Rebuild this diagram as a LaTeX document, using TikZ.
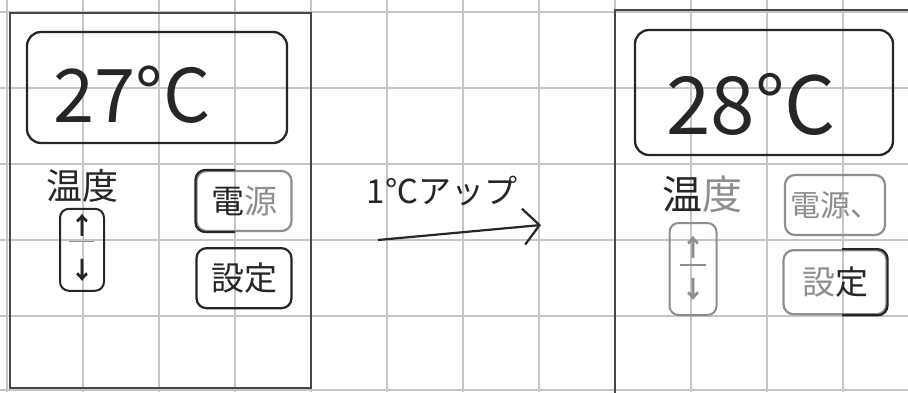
\documentclass[tikz,border=0pt]{standalone}
\usepackage{fontspec}
\setmainfont{Noto Sans CJK JP}
\usetikzlibrary{positioning,arrows.meta}

\definecolor{ink}{HTML}{262626}
\definecolor{pencil}{HTML}{8E8E8E}
\definecolor{gridline}{HTML}{C6C6C6}

\tikzstyle{phone} = [rectangle, draw=ink!85, line width=1.8pt, inner sep=0pt]
\tikzstyle{screen} = [rectangle, rounded corners=14pt, draw=ink, line width=2.3pt, inner sep=0pt]
\tikzstyle{button} = [rectangle, rounded corners=10pt, draw=ink, line width=2.2pt, inner sep=0pt, minimum width=95pt, minimum height=60pt, text=ink, font=\fontsize{33}{33}\selectfont]
\tikzstyle{updown} = [rectangle, rounded corners=9pt, draw=ink, line width=2pt, inner sep=0pt, minimum width=44pt, minimum height=82pt]
\tikzstyle{key} = [inner sep=0pt, text=ink, font=\fontsize{24}{24}\selectfont\bfseries]
\tikzstyle{label} = [inner sep=0pt, text=ink, font=\fontsize{36}{36}\selectfont]
\tikzstyle{temp} = [inner sep=0pt, text=ink, font=\fontsize{74}{74}\selectfont]
\tikzstyle{arrow} = [ink, line width=2.2pt, ->, >={Straight Barb[length=16pt,width=36pt,line width=2.2pt]}]

\begin{document}
\begin{tikzpicture}[x=1pt,y=-1pt]
\useasboundingbox (0,0) rectangle (908,392);
\fill[white] (0,0) rectangle (908,392);

% grid paper
\foreach \gx in {7,83,...,919}
  \draw[gridline, line width=1.3pt] (\gx,0) -- (\gx,392);
\foreach \gy in {12,88,164,240,316,390}
  \draw[gridline, line width=1.3pt] (0,\gy) -- (908,\gy);

% before
\node (phoneL) [phone, minimum width=301pt, minimum height=375pt] at (160.5,200.5) {};
\node (dispL) [screen, minimum width=260pt, minimum height=111pt] at (157,87.5) {};
\node (tempL) [temp] at (132,95) {27°C};
\node (lblL) [label] at (82,186) {温度};
\node (udL) [updown, below=5pt of lblL] {};
\node (upL) [key] at ([yshift=-18pt]udL.north) {↑};
\node (downL) [key] at ([yshift=21pt]udL.south) {↓};
\draw[pencil, line width=1pt] ([xshift=-13pt,yshift=8pt]udL.center) -- ([xshift=12pt,yshift=8pt]udL.center);
\node (pwrL) [button, draw=pencil] at (244,201) {電\textcolor{pencil}{源}};
\draw[ink, line width=2.2pt, rounded corners=10pt] ([xshift=-9pt]pwrL.north) -- (pwrL.north west) -- (pwrL.south west) -- ([xshift=-9pt]pwrL.south);
\node (setL) [button, below=15pt of pwrL] {設定};

% 1 degree up
\node (upstep) [label, font=\fontsize{33}{33}\selectfont] at (442,191) {1℃アップ};
\coordinate (arrS) at (378,240);
\coordinate (arrE) at (541,225);
\draw[arrow] (arrS) -- (arrE);

% after
\node (phoneR) [phone, minimum width=385pt, minimum height=490pt] at (807.5,255) {};
\node (dispR) [screen, minimum width=258pt, minimum height=125pt] at (764,92.5) {};
\node (tempR) [temp, font=\fontsize{80}{80}\selectfont] at (751,104) {28°C};
\node (lblR) [label, font=\fontsize{40}{40}\selectfont] at (702,194) {温\textcolor{pencil}{度}};
\node (udR) [updown, draw=pencil, minimum width=47pt, minimum height=92pt] at (693,269) {};
\node (upR) [key, text=pencil] at ([yshift=-25pt]udR.north) {↑};
\node (downR) [key, text=pencil] at ([yshift=27pt]udR.south) {↓};
\draw[pencil, line width=1.4pt] ([xshift=-13pt,yshift=4pt]udR.center) -- ([xshift=13pt,yshift=4pt]udR.center);
\node (pwrR) [button, draw=pencil, text=pencil, minimum width=100pt, font=\fontsize{30}{30}\selectfont] at (835,205) {電源、};
\node (setR) [button, draw=pencil, minimum width=103pt, minimum height=64pt, below=13pt of pwrR] {\textcolor{pencil}{設}定};
\draw[ink, line width=2.2pt, rounded corners=10pt] ([xshift=7pt]setR.north) -- (setR.north east) -- (setR.south east) -- ([xshift=7pt]setR.south);
\end{tikzpicture}
\end{document}
